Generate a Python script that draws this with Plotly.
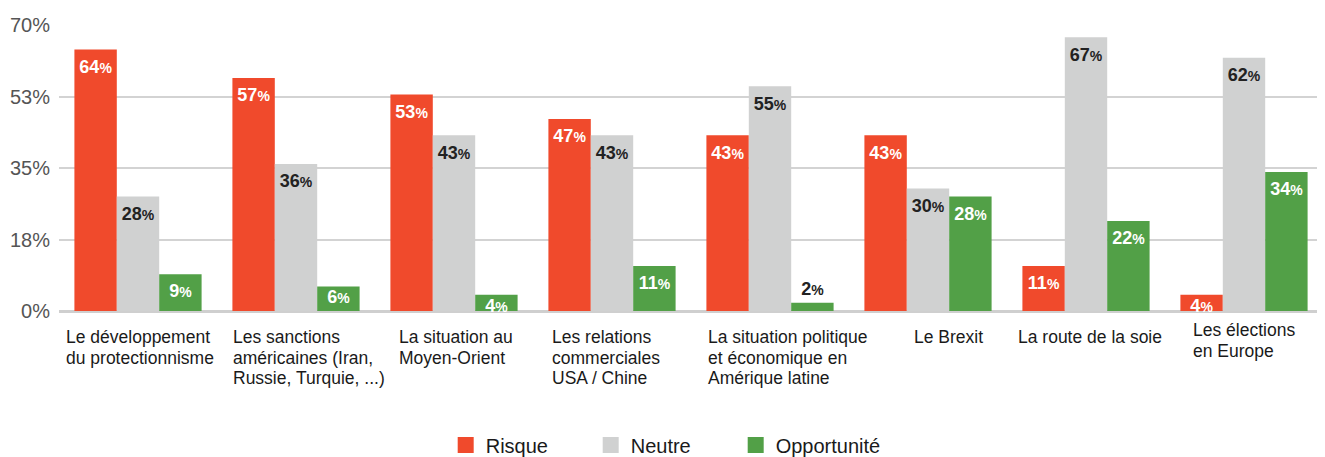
import plotly.graph_objects as go

categories = [
    "Le développement<br>du protectionnisme",
    "Les sanctions<br>américaines (Iran,<br>Russie, Turquie, ...)",
    "La situation au<br>Moyen-Orient",
    "Les relations<br>commerciales<br>USA / Chine",
    "La situation politique<br>et économique en<br>Amérique latine",
    "Le Brexit",
    "La route de la soie",
    "Les élections<br>en Europe",
]
risque = [64, 57, 53, 47, 43, 43, 11, 4]
neutre = [28, 36, 43, 43, 55, 30, 67, 62]
opportunite = [9, 6, 4, 11, 2, 28, 22, 34]
tick_vals = [0, 17.5, 35, 52.5, 70]
tick_text = ["0%", "18%", "35%", "53%", "70%"]

# styling: horizontal / vertical nudges of the category labels (px)
label_xshift = [-74, -65, -57, -62, -64, -16, -70, -53]
label_yshift = [0, 0, 0, 0, 0, 0, 0, 7]

cat_ids = list(range(len(categories)))
FONT = "Liberation Sans, Arial, Helvetica, sans-serif"
DARK = "#222222"

series = [
    ("Risque", risque, "#F04A2C", "white"),
    ("Neutre", neutre, "#D0D1D1", DARK),
    ("Opportunité", opportunite, "#52A047", "white"),
]

def labels(vals):
    return [f"<b>{v}<span style='font-size:14px'>%</span></b>" for v in vals]

fig = go.Figure()
for name, vals, color, tcolor in series:
    fig.add_trace(go.Bar(
        name=name, x=cat_ids, y=vals, offsetgroup=name,
        marker=dict(color=color, line=dict(width=0)),
        showlegend=False, hoverinfo="skip",
    ))

for name, vals, color, tcolor in series:
    small = [v < 3 for v in vals]
    fig.add_trace(go.Scatter(
        x=cat_ids, y=vals, offsetgroup=name, mode="markers+text",
        marker=dict(size=[14 if v >= 9 else 4 for v in vals], opacity=0),
        text=labels(vals),
        textposition=["top center" if s else "bottom center" for s in small],
        textfont=dict(size=18, family=FONT,
                      color=[DARK if s else tcolor for s in small]),
        cliponaxis=False, showlegend=False, hoverinfo="skip",
    ))

# legend entries (square swatches)
for name, vals, color, tcolor in series:
    fig.add_trace(go.Scatter(
        x=[None], y=[None], name=name, mode="markers", xaxis="x2",
        marker=dict(symbol="square", size=16, color=color),
    ))

for i, c in zip(cat_ids, categories):
    for j, line in enumerate(c.split("<br>")):
        fig.add_annotation(
            x=i, y=0, xref="x", yref="paper", text=line, showarrow=False,
            xanchor="left", yanchor="middle", align="left",
            xshift=label_xshift[i],
            yshift=-26 - 20.5 * j + label_yshift[i],
            font=dict(size=17.5, color="#1a1a1a", family=FONT),
        )

fig.update_layout(
    width=1317, height=449,
    margin=dict(l=51, r=2, t=17, b=146, autoexpand=False),
    plot_bgcolor="white", paper_bgcolor="white",
    barmode="group", bargap=0.195, bargroupgap=0,
    scattermode="group", scattergap=0.195,
    font=dict(family=FONT),
    showlegend=True,
    legend=dict(orientation="h", x=0.478, xanchor="center",
                y=-0.4685, yanchor="middle",
                font=dict(size=20, color="#1a1a1a", family=FONT),
                itemwidth=30, entrywidth=100, traceorder="normal"),
    xaxis=dict(range=[-0.5, 7.5], showticklabels=False, showgrid=False,
               zeroline=False, showline=False, ticks="", automargin=False),
    xaxis2=dict(overlaying="x", visible=False, range=[0, 1]),
    yaxis=dict(range=[0, 70], tickvals=tick_vals, ticktext=tick_text,
               showgrid=True, gridcolor="#D3D3D3", gridwidth=2,
               zeroline=True, zerolinecolor="#CFCFCF", zerolinewidth=3,
               showline=False, ticks="", automargin=False, ticklabelstandoff=8,
               tickfont=dict(size=20, color="#555555", family=FONT)),
)

fig.write_html("out.html")
